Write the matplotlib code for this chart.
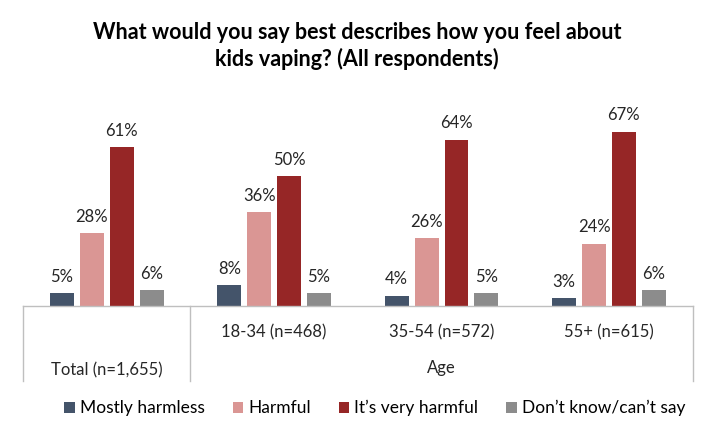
import matplotlib.pyplot as plt
import numpy as np

plt.rcParams['font.family'] = ['Lato', 'DejaVu Sans']

groups = ["Total (n=1,655)", "18-34 (n=468)", "35-54 (n=572)", "55+ (n=615)"]
series = ["Mostly harmless", "Harmful", "It\u2019s very harmful", "Don\u2019t know/can\u2019t say"]
mostly_harmless = [5, 8, 4, 3]
harmful = [28, 36, 26, 24]
very_harmful = [61, 50, 64, 67]
dont_know = [6, 5, 5, 6]
colors = ["#44546A", "#DA9694", "#962626", "#8C8C8C"]

values = [mostly_harmless, harmful, very_harmful, dont_know]

fig = plt.figure(figsize=(7.14, 4.38), dpi=100)
ax = fig.add_axes([0.0322, 0.3014, 0.938, 0.475])

x = np.arange(len(groups))
offsets = [-0.268, -0.089, 0.089, 0.268]
width = 0.143
for vals, off, col, name in zip(values, offsets, colors, series):
    bars = ax.bar(x + off, vals, width, color=col, label=name)
    for b, v in zip(bars, vals):
        ax.annotate(f"{v}%", (b.get_x() + b.get_width() / 2, v),
                    xytext=(0, 6), textcoords="offset points",
                    ha="center", va="bottom", fontsize=12, color="#262626")

ax.set_xlim(-0.5, 3.5)
ax.set_ylim(0, 80)
for s in ax.spines.values():
    s.set_visible(False)
ax.set_xticks([])
ax.set_yticks([])

# multi-level category axis
tr = ax.get_xaxis_transform()
line_col = "#BFBFBF"
ax.plot([-0.5, 3.5], [0, 0], transform=tr, color=line_col, lw=1, clip_on=False)
for xv in [-0.5, 0.5, 3.5]:
    ax.plot([xv, xv], [0, -0.36], transform=tr, color=line_col, lw=1, clip_on=False)

ax.text(0, -0.308, groups[0], transform=tr, ha="center", va="center", fontsize=12, color="#262626")
for i in range(1, 4):
    ax.text(i, -0.125, groups[i], transform=tr, ha="center", va="center", fontsize=12, color="#262626")
ax.text(2, -0.298, "Age", transform=tr, ha="center", va="center", fontsize=12, color="#262626")

fig.text(0.5, 0.895, "What would you say best describes how you feel about\nkids vaping? (All respondents)",
         ha="center", va="center", fontsize=15.5, fontweight="bold", linespacing=1.3)

fig.legend(loc="center", bbox_to_anchor=(0.525, 0.068), ncol=4, frameon=False,
           fontsize=12.5, handlelength=0.6, handleheight=0.6, handletextpad=0.3,
           columnspacing=1.6)

fig.savefig("out.png", dpi=100)
